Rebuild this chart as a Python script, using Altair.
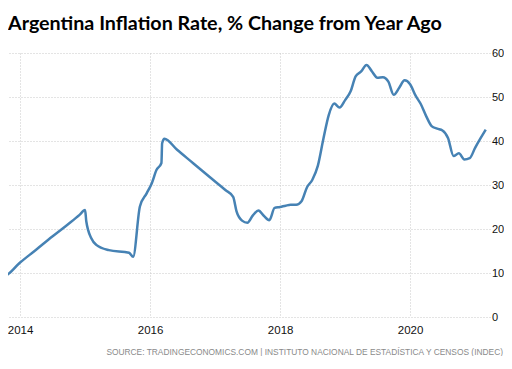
import altair as alt
import pandas as pd

dates = [
    "2013-09-01", "2013-09-25", "2013-10-05", "2014-01-01", "2014-04-01",
    "2014-07-01", "2014-10-01", "2014-12-01", "2015-01-01", "2015-01-08",
    "2015-02-05", "2015-03-05", "2015-05-15", "2015-09-05", "2015-09-28",
    "2015-11-05", "2015-12-13", "2016-01-11", "2016-02-06", "2016-03-05",
    "2016-03-09", "2016-03-22", "2016-06-01", "2016-09-01", "2016-12-01",
    "2017-03-01", "2017-04-12", "2017-05-01", "2017-06-01",
    "2017-07-01", "2017-08-01", "2017-09-01", "2017-10-01", "2017-11-01",
    "2017-12-01", "2018-01-01", "2018-02-01", "2018-03-01", "2018-04-01",
    "2018-05-01", "2018-06-01", "2018-07-01", "2018-08-01", "2018-09-01",
    "2018-10-01", "2018-11-01", "2018-12-01", "2019-01-01", "2019-02-01",
    "2019-03-01", "2019-04-01", "2019-05-01", "2019-06-01", "2019-07-01",
    "2019-08-01", "2019-09-01", "2019-10-01", "2019-11-01", "2019-12-01",
    "2020-01-01", "2020-02-01", "2020-03-01", "2020-04-01", "2020-05-01",
    "2020-06-01", "2020-07-01", "2020-08-01", "2020-09-01", "2020-10-01",
    "2020-11-01", "2020-12-01", "2021-01-01", "2021-02-01", "2021-03-01",
]
values = [
    10.7, 10.7, 9.4, 12.4, 15.3,
    18.3, 21.2, 23.2, 24.3, 21.7,
    17.9, 16.4, 15.2, 14.6, 13.7,
    25.1, 28.1, 30.4, 33.4, 35.0,
    39.5, 40.5, 38.0, 34.9, 31.8,
    28.8, 27.3, 24.0, 21.9,
    21.4, 23.1, 24.2, 23.0, 22.0,
    24.8, 25.0, 25.3, 25.5, 25.5,
    26.3, 29.5, 31.2, 34.4, 40.5,
    45.9, 48.5, 47.6, 49.3, 51.3,
    54.7, 55.8, 57.3, 55.8, 54.4,
    54.5, 53.5, 50.5, 52.1, 53.8,
    52.9, 50.3, 48.4, 45.6, 43.4,
    42.8, 42.4, 40.7, 36.6, 37.2,
    35.8, 36.1, 38.5, 40.7, 42.6,
]
y_ticks = [0, 10, 20, 30, 40, 50, 60]
x_tick_years = [2014, 2016, 2018, 2020]

title_text = "Argentina Inflation Rate, % Change from Year Ago"
source_text = "SOURCE: TRADINGECONOMICS.COM  |  INSTITUTO NACIONAL DE ESTADÍSTICA Y CENSOS (INDEC)"

df = pd.DataFrame({"date": pd.to_datetime(dates), "value": values})

W, H = 482, 264

x_enc = alt.X(
    "date:T",
    scale=alt.Scale(domain=["2013-10-25", "2021-03-25"], nice=False),
    axis=alt.Axis(
        values=[alt.DateTime(year=y, month=1, date=1) for y in x_tick_years],
        format="%Y", title=None, domain=False, ticks=False,
        labelPadding=7, labelFont="Liberation Sans", labelFontSize=11.5,
        labelColor="#111", grid=True, gridColor="#c8c8c8", gridDash=[1, 2],
        labelFlush=False,
    ),
)
y_enc = alt.Y(
    "value:Q",
    scale=alt.Scale(domain=[0, 60], nice=False),
    axis=alt.Axis(
        values=y_ticks, orient="right", title=None, domain=False, ticks=False,
        labelPadding=1.5, labelFont="Liberation Sans", labelFontSize=11,
        labelColor="#111", grid=True, gridColor="#c8c8c8", gridDash=[1, 2],
    ),
)

line = alt.Chart(df).mark_line(
    color="#4682b4", strokeWidth=2.5, interpolate="monotone", clip=True
).encode(x=x_enc, y=y_enc)

title = alt.Chart(pd.DataFrame({"t": [title_text]})).mark_text(
    align="left", baseline="alphabetic", font="Lato", fontSize=19.7,
    fontWeight="bold", color="#000",
).encode(x=alt.value(0), y=alt.value(-23), text="t:N")

source = alt.Chart(pd.DataFrame({"t": [source_text]})).mark_text(
    align="right", baseline="alphabetic", font="Liberation Sans",
    fontSize=8.4, color="#8a8a8a",
).encode(x=alt.value(W + 13), y=alt.value(H + 38), text="t:N")

chart = alt.layer(line, title, source).properties(
    width=W, height=H,
    padding={"left": 0, "top": 45, "right": 14, "bottom": 39},
    autosize=alt.AutoSizeParams(type="none"),
).configure_view(stroke=None)

chart.save("out.html", embed_options={"renderer": "svg", "actions": False})
